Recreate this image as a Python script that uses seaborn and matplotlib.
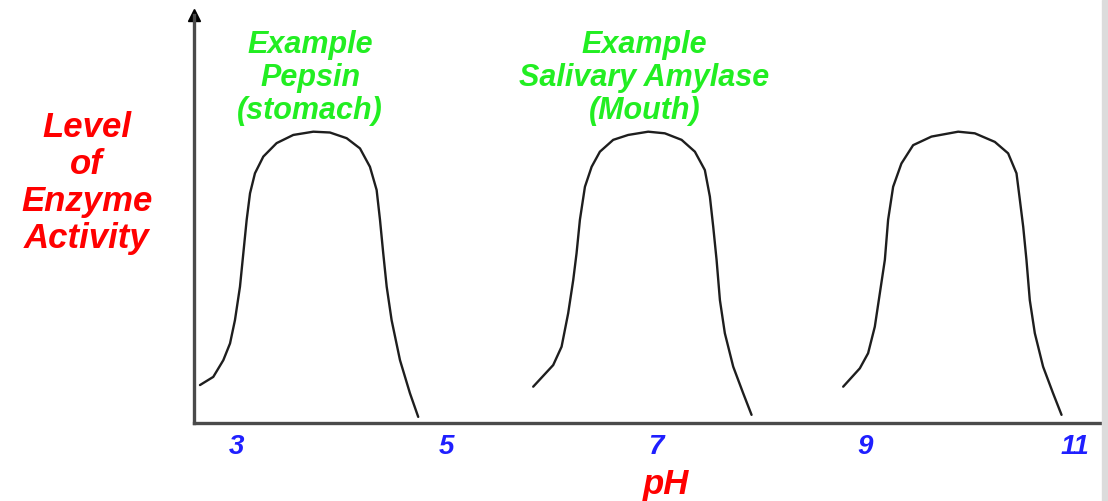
import matplotlib
matplotlib.use("Agg")
import matplotlib.pyplot as plt
import seaborn as sns
from matplotlib.patches import Rectangle

# pH tick labels shown under the axis
ph_ticks = [3, 5, 7, 9, 11]

# curve 1 - pepsin (stomach)
ph_pepsin = [2.647, 2.774, 2.870, 2.934, 2.981, 3.029, 3.061, 3.093, 3.125, 3.172, 3.252,
             3.379, 3.538, 3.729, 3.888, 4.048, 4.175, 4.270, 4.334, 4.366, 4.397, 4.430,
             4.477, 4.557, 4.652, 4.731]
act_pepsin = [9.3, 11.3, 15.4, 19.5, 25.2, 33.4, 41.6, 49.8, 56.3, 61.2, 65.3,
              68.6, 70.6, 71.4, 71.2, 69.8, 67.3, 62.8, 57.1, 49.8, 41.6, 33.4,
              25.2, 15.4, 7.3, 1.5]

# curve 2 - salivary amylase (mouth)
ph_amylase = [5.829, 6.020, 6.100, 6.163, 6.211, 6.243, 6.275, 6.323, 6.387, 6.466, 6.593,
              6.736, 6.927, 7.086, 7.246, 7.373, 7.468, 7.516, 7.548, 7.580, 7.612, 7.659,
              7.739, 7.834, 7.914]
act_amylase = [8.9, 14.2, 18.7, 26.9, 35.0, 41.6, 49.8, 57.9, 62.8, 66.5, 69.4,
               70.6, 71.4, 71.0, 69.4, 66.5, 62.0, 55.5, 48.1, 40.0, 30.1, 22.0,
               13.8, 7.3, 2.0]

# curve 3 - alkaline enzyme (no label)
ph_alkaline = [8.789, 8.948, 9.027, 9.091, 9.139, 9.187, 9.218, 9.266, 9.345, 9.457, 9.632,
               9.887, 10.046, 10.237, 10.364, 10.444, 10.476, 10.508, 10.539, 10.571,
               10.619, 10.698, 10.793, 10.874]
act_alkaline = [8.9, 13.4, 17.1, 23.6, 31.8, 40.0, 49.8, 57.9, 63.6, 68.1, 70.2,
                71.4, 71.0, 68.9, 66.1, 61.2, 54.7, 48.1, 40.0, 30.1,
                22.0, 13.8, 7.3, 2.0]

enzyme_labels = ["Example\nPepsin\n(stomach)", "Example\nSalivary Amylase\n(Mouth)"]

sns.set_style("white")
plt.rcParams['font.family'] = ['Liberation Sans', 'DejaVu Sans']

fig = plt.figure(figsize=(11.08, 5.01), dpi=100)
ax = fig.add_axes([194 / 1108, 78 / 501, 909 / 1108, 408 / 501])

for xs, ys in [(ph_pepsin, act_pepsin), (ph_amylase, act_amylase), (ph_alkaline, act_alkaline)]:
    sns.lineplot(x=xs, y=ys, ax=ax, color='#1e1e1e', linewidth=1.7)

ax.set_xlim(2.59, 11.27)
ax.set_ylim(0, 100)

# only left and bottom axis lines, with an arrow on top
sns.despine(ax=ax)
for side in ['left', 'bottom']:
    ax.spines[side].set_color('#4a4a4a')
    ax.spines[side].set_linewidth(2.4)
ax.plot(0, 1, marker='^', color='black', markersize=8, transform=ax.transAxes, clip_on=False)

ax.set_yticks([])
ax.set_xticks(ph_ticks)
ax.set_xticklabels([str(t) for t in ph_ticks], color='#1f1fff', fontsize=20,
                   fontweight='bold', fontstyle='italic')
ax.tick_params(axis='x', length=0, pad=8)

ax.set_xlabel('pH', color='#ff0000', fontsize=25, fontweight='bold', fontstyle='italic',
              va='center')
ax.xaxis.set_label_coords(0.519, -0.150)
ax.set_ylabel('Level\nof\nEnzyme\nActivity', color='#ff0000', fontsize=25, fontweight='bold',
              fontstyle='italic', rotation=0, ha='center', va='center', linespacing=1.15)
ax.yaxis.set_label_coords(-0.118, 0.588)

# green enzyme names above the first two peaks
for xpos, txt in zip([3.70, 6.89], enzyme_labels):
    ax.text(xpos, 84.6, txt, color='#22ee22', fontsize=22, fontweight='bold',
            fontstyle='italic', ha='center', va='center', linespacing=1.12)

# light grey strip on the right edge
fig.patches.append(Rectangle((1102 / 1108, 0), 6 / 1108, 1, transform=fig.transFigure,
                             color='#dcdcdc', zorder=0))

fig.savefig('out.png', dpi=100)
